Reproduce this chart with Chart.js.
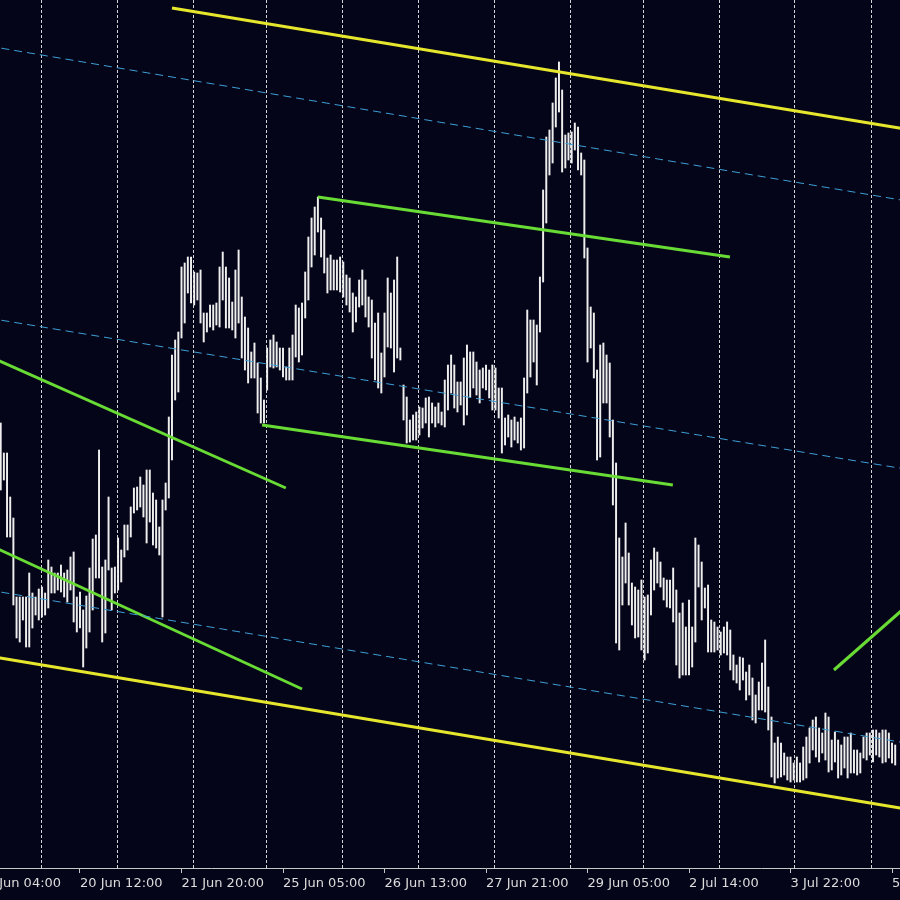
<!DOCTYPE html>
<html>
<head>
<meta charset="utf-8">
<script src="https://cdn.jsdelivr.net/npm/chart.js@4.4.1/dist/chart.umd.min.js"></script>
<style>
    html, body { margin: 0; padding: 0; background: #05051a; }
    #wrap { position: relative; width: 900px; height: 900px; overflow: hidden; background: #05051a; }
    #chart { position: absolute; left: -64px; top: 0; background: #05051a; }
</style>
</head>
<body>
<div id="wrap"><canvas id="chart" width="1100" height="900"></canvas></div>
<script>
// ============================
// DATA (H1 bars, price in points)
// ============================
const timeLabels = ["19 Jun 04:00", "20 Jun 12:00", "21 Jun 20:00", "25 Jun 05:00", "26 Jun 13:00",
    "27 Jun 21:00", "29 Jun 05:00", "2 Jul 14:00", "3 Jul 22:00", "5 Jul 06:00"];
const labelBars = [-7, 25, 57, 89, 121, 153, 185, 217, 249, 281];
const gridBars = [13, 36.9, 60.9, 83.9, 107.8, 131.7, 155.6, 179.6, 202.6, 226.5, 250.4, 274.6];

const highs = [
    577, 547, 547, 503, 482, 403, 403, 403, 403, 427,
    407, 403, 411, 413, 407, 440, 433, 427, 427, 435,
    427, 430, 443, 448, 403, 408, 390, 404, 432, 461,
    465, 550, 433, 440, 503, 432, 433, 462, 450, 475,
    475, 493, 512, 513, 523, 515, 530,
    530, 507, 500, 473, 500, 517, 583, 645, 660, 668,
    733, 737, 743, 743, 728, 727, 730, 687, 687, 695,
    695, 697, 733, 748, 733, 722, 698, 730, 750, 703,
    683, 672, 648, 657, 637, 622, 600, 652, 660, 665,
    658, 652, 652, 633, 652, 665, 695, 692,
    697, 728, 763, 782, 793, 803, 782, 770, 742, 745,
    740, 740, 743, 738, 725, 722, 707, 703, 720, 730,
    720, 703, 700, 677, 687, 647, 687, 722, 707, 720,
    743, 652, 615, 603, 580, 585, 588, 593, 592, 602,
    603, 597, 593, 597, 588, 620, 635,
    645, 635, 618, 618, 642, 655, 648, 648, 638, 630,
    632, 635, 630, 635, 632, 612, 612, 582, 585, 580,
    583, 578, 582, 622, 690, 680, 680, 675, 723, 810,
    863, 870, 897, 922, 938, 910, 865, 867, 868, 877,
    873, 847, 840, 752, 693, 687, 630, 655,
    657, 645, 637, 580, 537, 462, 443, 477, 447, 417,
    413, 410, 420, 403, 405, 440, 452, 448, 438, 422,
    420, 420, 432, 410, 387, 397, 373, 400, 373, 462,
    455, 438, 412, 415, 380, 378, 373, 368, 373, 378,
    370, 345, 335, 343, 342, 328, 335,
    322, 305, 318, 337, 360, 313, 283, 257, 263, 257,
    247, 243, 243, 237, 243, 237, 253, 263, 272, 280,
    283, 272, 267, 287, 283, 260, 268, 260, 255, 263,
    263, 267, 250, 250, 247, 263, 267, 267, 270, 270,
    267, 270, 270, 267, 257, 255
];

const lows = [
    510, 520, 463, 463, 395, 362, 358, 380, 353, 353,
    372, 385, 380, 383, 385, 392, 407, 407, 410, 408,
    403, 398, 410, 378, 368, 372, 333, 352, 368, 390,
    422, 422, 358, 367, 430, 390, 407, 410, 418, 443,
    450, 463, 487, 490, 493, 483, 457,
    478, 455, 452, 445, 383, 490, 502, 540, 600, 608,
    662, 677, 707, 697, 695, 700, 677, 658, 668, 673,
    670, 675, 673, 700, 672, 672, 670, 662, 677, 642,
    630, 617, 622, 622, 587, 577, 577, 610, 633, 632,
    633, 630, 623, 620, 620, 620, 643, 638,
    645, 682, 700, 733, 745, 768, 743, 727, 707, 710,
    710, 710, 708, 703, 695, 688, 668, 678, 693, 695,
    683, 673, 642, 620, 612, 607, 623, 653, 652, 628,
    642, 640, 580, 557, 558, 560, 560, 565, 572, 577,
    563, 577, 573, 577, 575, 573, 590,
    607, 592, 588, 595, 575, 585, 603, 612, 605, 597,
    612, 610, 602, 590, 590, 582, 547, 555, 563, 553,
    560, 557, 550, 552, 607, 623, 638, 615, 668, 718,
    777, 825, 837, 873, 888, 828, 832, 840, 837, 850,
    830, 825, 742, 638, 652, 622, 540, 543,
    597, 597, 563, 495, 357, 350, 395, 417, 395, 375,
    362, 363, 350, 340, 347, 385, 410, 417, 413, 400,
    393, 392, 378, 335, 322, 325, 325, 325, 333, 358,
    413, 380, 392, 348, 348, 348, 350, 345, 347, 345,
    330, 320, 317, 310, 320, 300, 305,
    280, 277, 290, 290, 288, 270, 223, 217, 222, 223,
    225, 220, 218, 220, 218, 218, 220, 222, 237, 250,
    243, 238, 247, 240, 228, 230, 238, 222, 225, 232,
    222, 227, 227, 225, 227, 242, 240, 245, 238, 245,
    243, 237, 238, 242, 237, 235
];

// trend objects: [bar, price] anchors
const channelTop = [[54, 992], [310, 858]];
const channelBottom = [[-20, 352.5], [310, 178]];
const quarterTop = [[-20, 962.6], [310, 786]];
const quarterMid = [[-20, 690.3], [310, 518]];
const quarterLow = [[-20, 418.5], [310, 244]];
const trendA = [[100, 803], [229.9, 743]];
const trendB = [[82.4, 575], [211.9, 515]];
const trendC = [[-20, 666.6], [89.9, 512]];
const trendD = [[-20, 479], [95, 311]];
const trendE = [[262.7, 330], [300, 434]];

// view window in bars / price
const xMin = -20.397;
const xMax = 326.39;
const yMin = 132;
const yMax = 1000;

const YELLOW = "#e6e62c";
const GREEN = "#68dc34";
const BLUE = "#3d9fd4";

const barData = highs.map((h, i) => ({ x: i, y: [lows[i], h] }));

function segment(pts, color, width, dash) {
    return {
        type: "line",
        data: pts.map(p => ({ x: p[0], y: p[1] })),
        borderColor: color,
        borderWidth: width,
        borderDash: dash,
        pointRadius: 0,
        fill: false,
        tension: 0,
        order: 0
    };
}

// no extra room for labels: the plot runs edge to edge
function flatFit(h) {
    return axis => {
        axis.height = h;
        axis.paddingLeft = 0;
        axis.paddingRight = 0;
        axis.paddingTop = 0;
        axis.paddingBottom = 0;
    };
}

new Chart(document.getElementById("chart"), {
    type: "bar",
    data: {
        datasets: [
            {
                type: "bar",
                data: barData,
                backgroundColor: "#eeeeee",
                barThickness: 1.3,
                order: 5
            },
            segment(quarterTop, BLUE, 1, [8, 5]),
            segment(quarterMid, BLUE, 1, [8, 5]),
            segment(quarterLow, BLUE, 1, [8, 5]),
            segment(channelTop, YELLOW, 3, []),
            segment(channelBottom, YELLOW, 3, []),
            segment(trendA, GREEN, 3, []),
            segment(trendB, GREEN, 3, []),
            segment(trendC, GREEN, 3, []),
            segment(trendD, GREEN, 3, []),
            segment(trendE, GREEN, 3, [])
        ]
    },
    options: {
        responsive: false,
        animation: false,
        devicePixelRatio: 1,
        layout: { padding: 0 },
        plugins: {
            legend: { display: false },
            tooltip: { enabled: false }
        },
        scales: {
            x: {
                type: "linear",
                position: "bottom",
                offset: false,
                min: xMin,
                max: xMax,
                afterBuildTicks: axis => { axis.ticks = labelBars.map(v => ({ value: v })); },
                afterFit: flatFit(32),
                ticks: {
                    autoSkip: false,
                    maxRotation: 0,
                    align: "start",
                    padding: 3,
                    color: "#dcdcdc",
                    font: { family: "DejaVu Sans", size: 13 },
                    callback: (v, i) => timeLabels[i]
                },
                grid: {
                    offset: false,
                    drawOnChartArea: false,
                    drawTicks: true,
                    tickLength: 5,
                    tickColor: "#c8c8c8",
                    color: "#c8c8c8"
                },
                border: { display: true, color: "#c8c8c8", width: 1 }
            },
            xg: {
                type: "linear",
                position: "bottom",
                offset: false,
                min: xMin,
                max: xMax,
                afterBuildTicks: axis => { axis.ticks = gridBars.map(v => ({ value: v })); },
                afterFit: flatFit(0),
                ticks: { display: false },
                grid: { offset: false, color: "#d4d4d4", lineWidth: 1, drawTicks: false },
                border: { display: false, dash: [3, 2] }
            },
            y: {
                display: false,
                min: yMin,
                max: yMax
            }
        }
    }
});
</script>
</body>
</html>
